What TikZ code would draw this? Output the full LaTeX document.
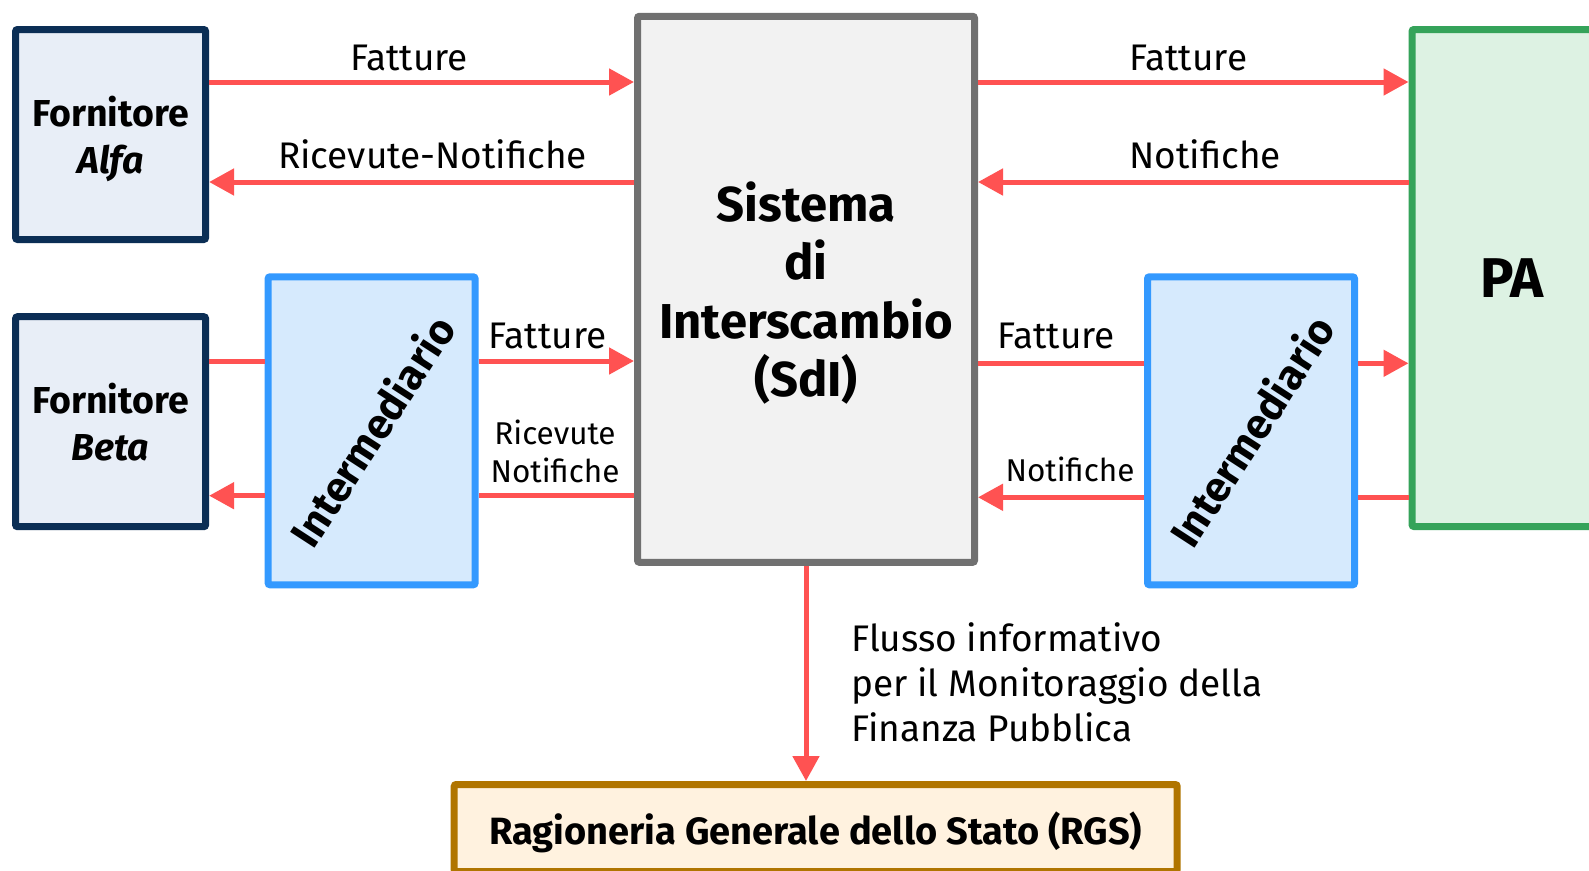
\documentclass[tikz,border=0pt]{standalone}
\usepackage{fontspec}
\setmainfont{Fira Sans}
\usetikzlibrary{arrows.meta}
\definecolor{navy}{HTML}{0B2E55}
\definecolor{navyfill}{HTML}{E8EEF7}
\definecolor{blueb}{HTML}{3399FF}
\definecolor{bluefill}{HTML}{D6EAFD}
\definecolor{greyb}{HTML}{707070}
\definecolor{greyfill}{HTML}{F2F2F2}
\definecolor{greenb}{HTML}{35A35A}
\definecolor{greenfill}{HTML}{DDF2E3}
\definecolor{brownb}{HTML}{B07500}
\definecolor{brownfill}{HTML}{FFF2DF}
\definecolor{arrred}{HTML}{FF5252}
\tikzset{
  box/.style={draw, line width=7pt, rounded corners=2pt, inner sep=0pt, align=center},
  fornbox/.style={box, draw=navy, fill=navyfill, minimum width=190pt, minimum height=210pt,
    font=\bfseries\fontsize{37.5}{46.6}\selectfont},
  interbox/.style={box, draw=blueb, fill=bluefill, minimum width=207pt, minimum height=308pt},
  conn/.style={line width=5pt, draw=arrred},
  arr/.style={conn, -{Triangle[length=25pt,width=26pt]}},
  lbl/.style={inner sep=0pt, anchor=base, font=\fontsize{37}{45}\selectfont},
  slbl/.style={inner sep=0pt, font=\fontsize{31.5}{38.4}\selectfont},
  rottext/.style={inner sep=0pt, rotate=57, font=\bfseries\fontsize{42}{46}\selectfont}
}
\begin{document}
\begin{tikzpicture}[x=1pt,y=-1pt]
\useasboundingbox[fill=white] (0,0) rectangle (1589,870);
% boxes
\node[fornbox] (alfa) at (110.6,134.5) {Fornitore\\\smash{\textit{Alfa}}};
\node[fornbox] (beta) at (110.6,421.7) {Fornitore\\\smash{\textit{Beta}}};
\node[interbox] (intl) at (371.6,430.8) {};
\node[interbox] (intr) at (1251,430.8) {};
\node[box, draw=greyb, fill=greyfill, minimum width=337pt, minimum height=546pt,
  font=\bfseries\fontsize{49}{58.5}\selectfont] (sdi) at (806,289.3) {Sistema\\di\\Interscambio\\\smash{(SdI)}};
\node[box, draw=greenb, fill=greenfill, minimum width=200pt, minimum height=497pt,
  font=\bfseries\fontsize{56}{60}\selectfont] (pa) at (1512,278) {PA};
\node[box, draw=brownb, fill=brownfill, minimum width=723pt, minimum height=87pt, text depth=0pt,
  font=\bfseries\fontsize{38}{44}\selectfont] (rgs) at (815.7,828) {Ragioneria Generale dello Stato (RGS)};
\node[rottext] (intltext) at (intl.center) {Intermediario};
\node[rottext] (intrtext) at (intr.center) {Intermediario};
% rows
\coordinate (y1) at (0,82);
\coordinate (y2) at (0,182);
\coordinate (yl1) at (0,361);
\coordinate (yl2) at (0,495.7);
\coordinate (yr1) at (0,363.3);
\coordinate (yr2) at (0,497.3);
% connectors
\draw[arr] (alfa.east |- y1) -- (sdi.west |- y1);
\draw[arr] (sdi.west |- y2) -- (alfa.east |- y2);
\draw[arr] (sdi.east |- y1) -- (pa.west |- y1);
\draw[arr] (pa.west |- y2) -- (sdi.east |- y2);
\draw[conn] (beta.east |- yl1) -- (intl.west |- yl1);
\draw[arr] (intl.east |- yl1) -- (sdi.west |- yl1);
\draw[conn] (sdi.west |- yl2) -- (intl.east |- yl2);
\draw[arr] (intl.west |- yl2) -- (beta.east |- yl2);
\draw[conn] (sdi.east |- yr1) -- (intr.west |- yr1);
\draw[arr] (intr.east |- yr1) -- (pa.west |- yr1);
\draw[conn] (pa.west |- yr2) -- (intr.east |- yr2);
\draw[arr] (intr.west |- yr2) -- (sdi.east |- yr2);
\draw[arr] (sdi.south) -- (sdi.south |- rgs.north);
% labels
\node[lbl] (l1) at (409,70.7) {Fatture};
\node[lbl] (l2) at (432.6,168.3) {Ricevute-Notifiche};
\node[lbl, anchor=base west] (l3) at (1129.3,70) {Fatture};
\node[lbl, anchor=base west] (l4) at (1129.3,168.3) {Notifiche};
\node[lbl] (l5) at (547.5,348.3) {Fatture};
\node[slbl, align=center] (l6) at (555,451.5) {Ricevute\\Notifiche};
\node[lbl] (l7) at (1056,348.3) {Fatture};
\node[slbl, anchor=base] (l8) at (1070,481.7) {Notifiche};
\node[lbl, anchor=west, align=left] (l9) at (851,682.5) {Flusso informativo\\per il Monitoraggio della\\Finanza Pubblica};
\end{tikzpicture}
\end{document}
